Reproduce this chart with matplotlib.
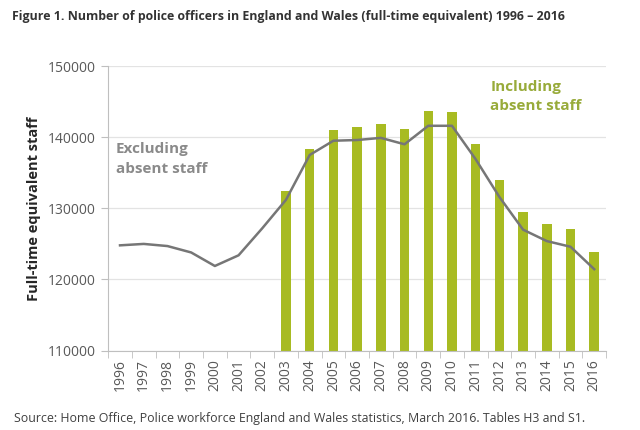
import matplotlib
matplotlib.use('Agg')
import matplotlib.pyplot as plt
import numpy as np

plt.rcParams['font.family'] = ['Open Sans', 'DejaVu Sans']

years = [str(y) for y in range(1996, 2017)]
# excluding absent staff (line), 1996-2016
excluding = [124800, 125000, 124700, 123800, 121900, 123400, 127200, 131200, 137500,
             139500, 139600, 139900, 139000, 141600, 141600, 136900, 131600, 127000,
             125400, 124600, 121450]
# including absent staff (bars), 2003-2016 only
including = [None] * 7 + [132400, 138400, 141000, 141400, 141800, 141200, 143700,
                          143600, 139000, 134000, 129500, 127800, 127100, 123900]
yticks = [110000, 120000, 130000, 140000, 150000]

green = '#a8bb22'
grey_line = '#767676'
text_grey = '#595959'

fig = plt.figure(figsize=(6.4, 4.3), dpi=100)
ax = fig.add_axes([0.169, 0.1845, 0.778, 0.662])

x = np.arange(len(years))
bar_x = [i for i, v in enumerate(including) if v is not None]
bar_v = [v for v in including if v is not None]
ax.bar(bar_x, [v - 110000 for v in bar_v], bottom=110000, width=0.4, color=green, zorder=2)
ax.plot(x, excluding, color=grey_line, lw=1.8, zorder=3, solid_joinstyle='round')

ax.set_xlim(-0.5, len(years) - 0.5)
ax.set_ylim(110000, 150000)
ax.set_yticks(yticks)
ax.set_yticklabels([str(t) for t in yticks], fontsize=10, color=text_grey)
ax.set_xticks(x)
ax.set_xticklabels(years, rotation=90, fontsize=10, color=text_grey)
ax.tick_params(axis='x', length=0, pad=6)
ax.set_xticks(np.arange(-0.5, len(years)), minor=True)
ax.tick_params(axis='x', which='minor', length=5, color='#bfbfbf')
ax.tick_params(axis='y', length=5, color='#bfbfbf', pad=4)

ax.grid(axis='y', color='#e3e3e3', lw=0.9, zorder=0)
for s in ['top', 'right']:
    ax.spines[s].set_visible(False)
ax.spines['left'].set_color('#bfbfbf')
ax.spines['bottom'].set_color('#bfbfbf')

ax.set_ylabel('Full-time equivalent staff', fontsize=10.5, fontweight='bold', color='#262626', labelpad=5)

ax.text(-0.17, 136900, 'Excluding\nabsent staff', fontsize=11, fontweight='bold',
        color='#8a8a8a', va='center', ha='left', linespacing=1.5)
ax.text(15.62, 145700, 'Including\nabsent staff', fontsize=11, fontweight='bold',
        color='#98ab3a', va='center', ha='left', linespacing=1.5)

fig.text(0.018, 0.962, 'Figure 1. Number of police officers in England and Wales (full-time equivalent) 1996 \u2013 2016',
         fontsize=8.9, fontweight='bold', color='#333333', va='center', ha='left')
fig.text(0.022, 0.027, 'Source: Home Office, Police workforce England and Wales statistics, March 2016. Tables H3 and S1.',
         fontsize=8.9, color='#404040', va='center', ha='left')

fig.savefig('out.png', dpi=100)
